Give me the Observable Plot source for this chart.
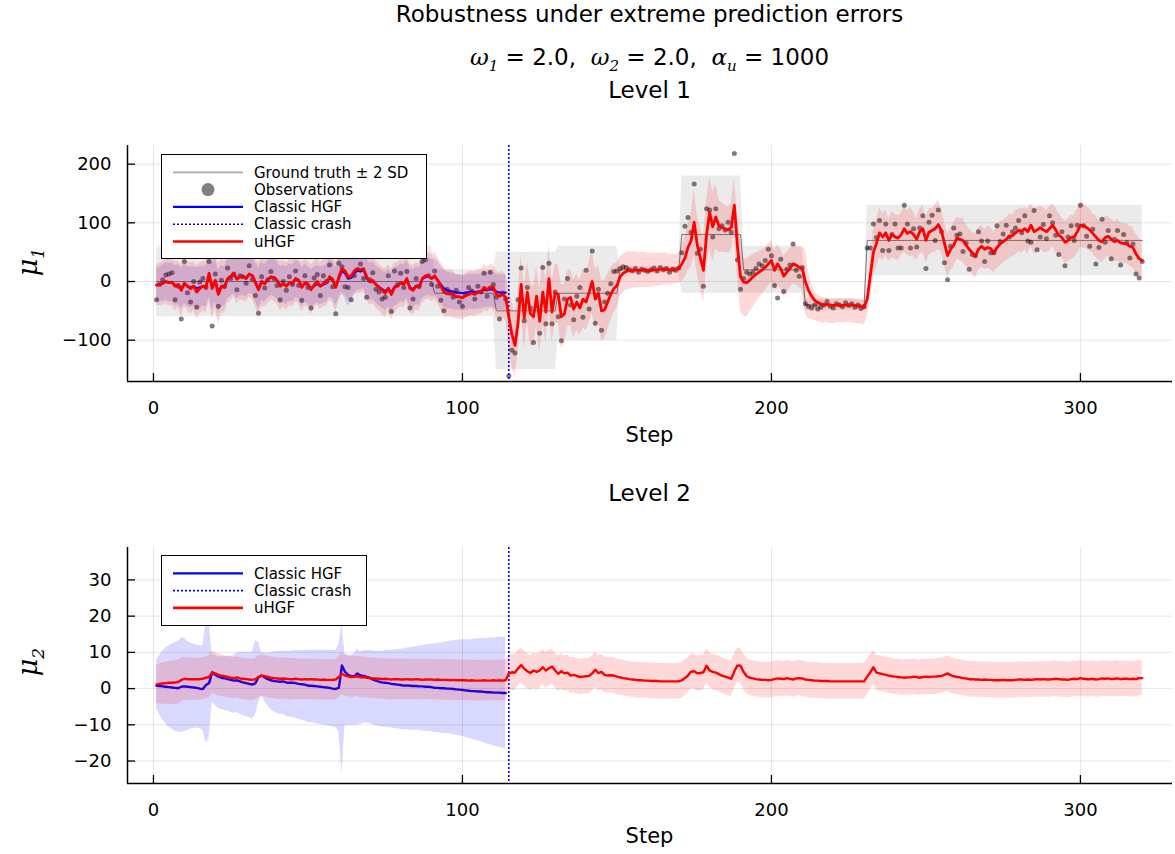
<!DOCTYPE html>
<html><head><meta charset="utf-8">
<script src="https://cdn.jsdelivr.net/npm/d3@7"></script>
<script src="https://cdn.jsdelivr.net/npm/@observablehq/plot@0.6"></script>
<style>
body{margin:0;background:#fff;font-family:"DejaVu Sans",sans-serif;color:#000;}
#wrap{position:relative;width:1175px;height:854px;overflow:hidden;background:#fff;}
.t{position:absolute;left:127px;width:1045px;text-align:center;white-space:nowrap;line-height:26px;}
.m{font-family:"DejaVu Serif",serif;font-style:italic;}
.ylab{position:absolute;transform:translate(-50%,-50%) rotate(-90deg);font-family:"DejaVu Serif",serif;font-style:italic;font-size:27px;white-space:nowrap;}
.plot{position:absolute;left:0;}
.leg{position:absolute;background:#fff;border:1.3px solid #000;box-sizing:border-box;}
</style></head><body><div id="wrap">
<div class="t" style="top:2px;font-size:23px;line-height:24px;">Robustness under extreme prediction errors</div>
<div class="t" style="top:44px;font-size:23px;"><span class="m">ω</span><sub class="m" style="font-size:15px">1</sub> = 2.0,&nbsp; <span class="m">ω</span><sub class="m" style="font-size:15px">2</sub> = 2.0,&nbsp; <span class="m">α</span><sub class="m" style="font-size:15px">u</sub> = 1000</div>
<div class="t" style="top:77px;font-size:23px;">Level 1</div>
<div class="t" style="top:480px;font-size:23px;">Level 2</div>
<div id="p1" class="plot" style="top:120px;"></div>
<div id="p2" class="plot" style="top:520px;"></div>
<div class="t" style="top:422px;font-size:21px;">Step</div>
<div class="t" style="top:823px;font-size:21px;">Step</div>
<div class="ylab" style="left:30px;top:262px;">μ<sub style="font-size:17px">1</sub></div>
<div class="ylab" style="left:30px;top:662px;">μ<sub style="font-size:17px">2</sub></div>
<div id="leg1" class="leg" style="left:161px;top:154px;width:266px;height:105px;"></div>
<div id="leg2" class="leg" style="left:161px;top:555px;width:206px;height:71px;"></div>
</div>
<script>
// ---------------- data ----------------
const xTicks = [0, 100, 200, 300];
const y1Ticks = [-100, 0, 100, 200];
const y2Ticks = [-20, -10, 0, 10, 20, 30];
const crashStep = 115;

// ground truth segments
const gtStart = [1, 91, 111, 131, 151, 171, 191, 211, 231];
const gtEnd   = [90, 110, 130, 150, 170, 190, 210, 230, 320];
const gtMean  = [0, -20, -50, -20, 20, 80, 20, -40, 70];
const gtSD    = [30, 20, 50, 40, 3, 50, 20, 5, 30];

// observations (steps 1..320)
const obs = [
-31,-5,3,11,13,15,-31,-8,-64,34,
-19,-35,0,-44,-1,5,-10,34,-76,13,
-42,2,-8,23,5,13,-14,10,8,-3,
27,4,-24,-54,8,-11,3,17,5,-7,
-31,0,-15,8,-5,18,-7,-32,10,-10,
-45,6,12,-24,10,0,28,-9,-55,31,
25,-9,-10,-31,10,20,30,5,-27,3,
15,-13,-18,-30,-27,10,-51,18,-5,14,
-10,17,-45,-30,5,-8,34,37,10,-5,
18,-8,-32,-50,-13,-20,-27,-15,-35,-42,
-22,-10,-16,-30,-8,-18,14,-25,16,-5,
-27,-64,-20,-30,-161,-117,-122,-31,23,-67,
-10,-45,-104,-40,-88,24,-72,31,-72,-18,
-60,-101,-30,5,-40,-65,-25,-10,-61,19,
-47,52,-71,-13,-83,-35,-20,-4,17,18,
22,25,24,20,18,22,16,21,19,17,
20,23,18,24,20,22,16,21,19,23,
49,94,109,84,166,48,55,-8,124,122,
76,124,90,95,88,101,84,218,37,-13,
5,16,13,16,22,30,27,36,55,44,
-7,-28,38,-17,21,28,64,19,9,24,
-38,-42,-45,-40,-47,-44,-40,-34,-42,-45,
-38,-40,-43,-36,-41,-38,-44,-40,-46,-43,
57,57,98,75,104,53,98,53,80,98,
57,57,130,98,57,90,59,91,112,22,
101,113,70,122,85,32,3,60,91,79,
81,51,65,21,46,44,85,69,34,69,
49,49,95,68,81,96,76,85,91,104,
83,112,69,67,121,54,76,97,73,112,
100,79,46,85,27,76,95,70,96,130,
95,77,60,89,30,58,106,67,87,39,
72,87,28,80,66,40,64,13,6,34];

// uHGF level-1 mean
const u1 = [
-6,-5,-3,0,-2,-1,-8,-5,-15,-3,
-8,-12,-8,-18,-12,-8,-10,14,-12,2,
-22,-8,-10,5,9,14,4,8,8,5,
13,10,-2,-14,0,-4,3,8,7,2,
-8,-4,-8,-2,-3,5,2,-10,-2,-4,
-14,-6,0,-8,-3,-2,8,4,-10,8,
22,18,8,10,18,22,20,22,8,0,
2,-5,-10,-15,-20,-12,-22,-10,-8,-2,
-5,5,-12,-15,-8,-10,5,10,10,5,
10,2,-8,-18,-21,-20,-22,-26,-26,-28,
-24,-22,-20,-22,-18,-18,-10,-14,-9,-10,
-22,-25,-22,-27,-60,-90,-109,-70,-5,-62,
-18,-55,-60,-25,-68,-18,-52,5,-52,-20,
-22,-60,-55,-30,-27,-47,-35,-45,-30,-35,
-18,0,-30,-20,-50,-48,-35,-22,-12,-7,
8,14,17,19,19,20,19,20,20,19,
19,20,20,21,21,21,20,21,21,22,
30,40,58,70,101,62,40,19,80,118,
93,110,95,92,90,88,92,130,60,8,
-1,-2,2,8,12,16,20,24,30,36,
19,30,22,9,16,22,30,28,24,22,
-1,-15,-25,-32,-36,-38,-40,-39,-40,-41,
-40,-40,-41,-40,-40,-40,-41,-42,-43,-44,
-30,10,50,65,83,76,83,70,80,76,
74,80,90,82,85,80,72,85,90,70,
84,87,90,97,87,65,44,55,62,74,
72,70,62,55,49,43,55,60,55,58,
56,49,58,64,68,72,77,78,83,87,
86,90,85,96,85,88,92,88,85,90,
96,88,79,75,67,70,75,76,85,96,
95,92,88,82,76,70,68,75,77,72,
68,70,66,65,64,60,58,47,39,36];

// uHGF level-1 band: distance above / below the mean
const u1Up = [
35,36,38,38,40,40,42,40,44,40,
42,44,42,46,44,42,44,48,52,46,
52,46,44,42,42,40,42,40,40,40,
40,40,42,46,42,40,40,40,40,40,
42,40,40,40,40,40,40,42,40,40,
42,40,40,40,40,40,40,40,42,42,
44,42,40,42,40,42,40,40,40,40,
40,40,40,40,42,40,44,42,40,40,
40,40,42,42,40,40,42,42,40,40,
40,40,40,42,40,40,40,38,38,38,
38,38,38,38,38,38,40,38,38,38,
40,40,40,40,50,55,55,52,50,55,
50,55,50,52,55,55,52,58,52,50,
50,55,50,48,48,50,48,48,50,48,
52,55,50,48,52,50,48,45,42,38,
34,33,32,32,31,31,30,30,30,29,
29,28,28,28,27,27,26,26,25,25,
30,35,40,45,55,50,52,55,58,62,
60,55,45,42,40,40,40,45,55,60,
40,40,40,38,36,35,34,34,34,34,
34,34,34,34,34,34,34,34,34,36,
55,32,18,14,13,12,12,11,11,11,
11,11,11,11,11,11,11,11,11,12,
22,30,38,40,42,40,38,36,40,38,
38,36,40,38,42,38,36,38,40,38,
40,38,40,42,38,36,38,36,38,36,
36,38,36,34,36,38,36,36,34,36,
36,34,36,38,36,36,38,36,38,36,
38,36,38,36,38,38,36,38,36,38,
36,38,36,34,36,36,38,36,38,38,
38,36,36,34,36,34,36,36,34,34,
34,36,34,34,34,34,34,34,34,33];
const u1Dn = [
35,36,38,38,40,40,42,40,44,40,
42,44,42,46,44,42,44,48,52,46,
52,46,44,42,42,40,42,40,40,40,
40,40,42,46,42,40,40,40,40,40,
42,40,40,40,40,40,40,42,40,40,
42,40,40,40,40,40,40,40,42,42,
44,42,40,42,40,42,40,40,40,40,
40,40,40,40,42,40,44,42,40,40,
40,40,42,42,40,40,42,42,40,40,
40,40,40,42,40,40,40,38,38,38,
38,38,38,38,38,38,40,38,38,38,
40,40,40,40,50,55,55,52,50,55,
50,55,50,52,55,55,52,58,52,50,
50,55,50,48,48,50,48,48,50,48,
52,55,50,48,52,50,48,45,42,38,
34,33,32,32,31,31,30,30,30,29,
29,28,28,28,27,27,26,26,25,25,
30,35,40,45,55,50,52,55,58,62,
60,55,45,42,40,40,40,45,55,60,
58,58,55,52,48,45,42,40,38,36,
36,36,34,34,34,34,34,34,34,36,
55,48,40,35,32,32,31,31,31,31,
30,30,30,30,30,30,30,30,30,30,
30,40,42,40,42,40,38,36,40,38,
38,36,40,38,42,38,36,38,40,38,
40,38,40,42,38,36,38,36,38,36,
36,38,36,34,36,38,36,36,34,36,
36,34,36,38,36,36,38,36,38,36,
38,36,38,36,38,38,36,38,36,38,
36,38,36,34,36,36,38,36,38,38,
38,36,36,34,36,34,36,36,34,34,
34,36,34,34,34,34,34,34,34,33];

// Classic HGF level-1 mean and band half-width (steps 1..114)
const c1 = [
-6,-5,-3,0,-2,-1,-7,-5,-12,-4,
-8,-10,-8,-12,-10,-8,-8,10,-8,2,
-18,-8,-9,4,8,12,4,8,8,5,
12,10,-1,-12,0,-3,3,8,7,2,
-7,-4,-7,-2,-3,4,2,-9,-3,-6,
-12,-8,-4,-8,-5,-3,6,2,-9,5,
18,14,5,6,14,19,17,20,6,-1,
1,-5,-9,-13,-17,-11,-19,-9,-7,-2,
-4,4,-10,-13,-7,-9,4,8,9,5,
8,2,-5,-12,-15,-16,-17,-19,-19,-20,
-19,-18,-17,-18,-17,-17,-14,-15,-13,-14,
-17,-19,-19,-19];
const c1w = [
28,30,31,32,33,33,34,34,35,34,
34,35,34,36,35,34,35,37,40,36,
38,35,34,33,33,33,33,32,32,32,
32,32,33,35,33,32,32,32,32,32,
32,32,32,32,32,32,32,33,32,32,
33,32,32,32,32,32,32,32,33,33,
36,44,48,40,34,34,32,32,32,32,
32,32,32,32,33,32,34,33,32,32,
32,32,33,33,32,32,33,33,32,32,
32,32,32,32,31,31,31,30,30,30,
30,30,30,30,30,30,30,30,30,30,
30,30,30,30];

// uHGF level-2 mean and band half-width (steps 1..320)
const u2 = [
1.1,1.3,1.4,1.5,1.6,1.6,1.7,1.8,2.4,2.7,
2.6,2.6,2.6,2.6,2.6,2.7,3.0,3.2,4.5,4.2,
3.8,3.6,3.4,3.2,3.0,2.9,3.1,2.8,2.7,2.6,
2.5,2.4,2.6,3.2,3.6,3.4,3.2,3.0,2.9,2.8,
2.7,2.8,2.7,2.6,2.6,2.7,2.6,2.5,2.6,2.5,
2.6,2.5,2.5,2.4,2.5,2.4,2.4,2.4,2.5,3.2,
4.1,3.6,3.4,3.2,3.3,3.4,3.1,3.2,3.0,2.9,
2.8,2.8,2.7,2.6,2.7,2.6,2.5,2.6,2.6,2.5,
2.5,2.6,2.5,2.5,2.6,2.5,2.4,2.5,2.5,2.5,
2.4,2.5,2.4,2.4,2.4,2.3,2.4,2.3,2.3,2.3,
2.3,2.2,2.3,2.2,2.2,2.2,2.3,2.2,2.2,2.3,
2.2,2.3,2.2,2.3,4.2,4.5,4.4,5.6,6.5,5.5,
4.8,4.3,5.0,4.6,5.0,5.9,5.0,5.6,6.1,5.0,
4.1,4.8,4.2,4.4,3.6,3.8,3.5,3.2,3.3,3.4,
3.5,4.2,5.2,4.3,4.6,3.8,3.6,3.7,3.6,3.3,
3.1,2.9,2.8,2.6,2.5,2.4,2.3,2.3,2.2,2.2,
2.1,2.1,2.1,2.0,2.0,2.0,2.0,2.0,2.0,2.0,
2.3,2.9,3.6,4.7,4.8,4.2,4.3,4.5,6.3,5.0,
4.6,4.4,4.0,3.6,3.3,3.0,2.7,4.8,6.4,6.3,
4.6,3.4,3.0,2.8,2.6,2.5,2.4,2.4,2.3,2.4,
2.6,2.8,2.7,2.6,2.9,2.7,2.5,2.8,2.9,2.8,
2.5,2.4,2.3,2.2,2.2,2.1,2.1,2.1,2.0,2.0,
2.0,2.0,2.0,2.0,2.0,2.0,2.0,2.0,2.0,2.0,
3.3,4.5,5.9,4.4,4.2,4.0,3.8,3.6,3.4,3.3,
3.2,3.1,3.0,3.1,3.1,3.3,3.2,3.0,3.2,3.3,
3.2,3.3,3.3,3.4,3.5,3.8,4.2,3.7,3.4,3.2,
3.1,2.9,2.8,2.6,2.6,2.5,2.5,2.4,2.5,2.4,
2.4,2.3,2.3,2.3,2.4,2.3,2.3,2.3,2.4,2.5,
2.5,2.4,2.5,2.4,2.5,2.6,2.5,2.6,2.5,2.5,
2.6,2.7,2.6,2.5,2.5,2.4,2.6,2.7,2.6,2.9,
2.7,2.6,2.6,2.7,2.5,2.6,2.8,2.7,2.8,2.6,
2.7,2.8,2.6,2.7,2.7,2.6,2.7,2.6,2.9,2.9];
const u2w = [
5.3,5.5,5.7,5.8,5.9,6.0,6.0,6.1,6.0,5.9,
5.9,5.9,5.8,5.8,5.8,5.8,5.8,5.8,5.9,5.8,
5.8,5.8,5.7,5.7,5.7,5.7,5.7,5.7,5.7,5.7,
5.7,5.7,5.7,5.7,5.8,5.7,5.7,5.7,5.7,5.7,
5.7,5.7,5.7,5.7,5.7,5.6,5.6,5.6,5.6,5.6,
5.6,5.6,5.6,5.6,5.6,5.6,5.6,5.6,5.6,5.7,
5.8,5.7,5.6,5.6,5.6,5.6,5.6,5.6,5.6,5.6,
5.6,5.6,5.6,5.6,5.6,5.6,5.6,5.6,5.6,5.6,
5.6,5.6,5.6,5.6,5.6,5.6,5.6,5.6,5.6,5.6,
5.6,5.6,5.6,5.6,5.6,5.6,5.6,5.6,5.6,5.6,
5.6,5.6,5.6,5.6,5.6,5.6,5.6,5.6,5.6,5.6,
5.6,5.6,5.6,5.6,5.0,5.0,5.0,4.9,4.8,4.9,
4.9,4.9,4.9,4.9,4.9,4.8,4.9,4.9,4.8,4.9,
4.9,4.9,4.9,4.9,4.9,4.9,4.9,4.9,4.9,4.9,
4.9,4.9,4.8,4.9,4.9,4.9,4.9,4.9,4.9,4.9,
4.9,4.9,4.9,4.9,4.9,4.9,4.9,4.9,4.9,4.9,
4.9,4.9,4.9,4.9,4.9,4.9,4.9,4.9,4.9,4.9,
4.9,4.9,4.9,4.8,4.8,4.9,4.9,4.8,4.7,4.8,
4.9,4.9,4.9,4.9,4.9,4.9,4.9,4.8,4.7,4.8,
4.9,4.9,4.9,4.9,4.9,4.9,4.9,4.9,4.9,4.9,
4.9,4.9,4.9,4.9,4.9,4.9,4.9,4.9,4.9,4.9,
4.9,4.9,4.9,4.9,4.9,4.9,4.9,4.9,4.9,4.9,
4.9,4.9,4.9,4.9,4.9,4.9,4.9,4.9,4.9,4.9,
4.9,4.8,4.7,4.8,4.9,4.9,4.9,4.9,4.9,4.9,
4.9,4.9,4.9,4.9,4.9,4.9,4.9,4.9,4.9,4.9,
4.9,4.9,4.9,4.9,4.9,4.9,4.9,4.9,4.9,4.9,
4.9,4.9,4.9,4.9,4.9,4.9,4.9,4.9,4.9,4.9,
4.9,4.9,4.9,4.9,4.9,4.9,4.9,4.9,4.9,4.9,
4.9,4.9,4.9,4.9,4.9,4.9,4.9,4.9,4.9,4.9,
4.9,4.9,4.9,4.9,4.9,4.9,4.9,4.9,4.9,4.9,
4.9,4.9,4.9,4.9,4.9,4.9,4.9,4.9,4.9,4.9,
4.9,4.9,4.9,4.9,4.9,4.9,4.9,4.9,4.9,4.9];

// Classic HGF level-2 mean and band (distance above / below), steps 1..114
const c2 = [
0.8,0.7,0.6,0.5,0.4,0.3,0.2,0.1,0.5,0.6,
0.5,0.4,0.3,0.2,0.0,-0.1,1.0,1.5,4.5,3.8,
3.3,3.0,2.8,2.6,2.4,2.2,2.3,2.0,1.7,1.5,
1.3,1.1,1.5,3.2,3.6,3.1,2.6,2.3,2.1,2.0,
1.9,2.0,1.7,1.6,1.6,1.5,1.3,1.2,1.1,0.8,
0.8,0.7,0.6,0.5,0.4,0.3,0.2,0.0,-0.1,0.2,
6.4,4.6,3.8,3.4,3.4,4.2,3.6,3.5,3.2,3.0,
2.5,2.2,1.9,1.7,1.6,1.5,1.3,1.2,1.1,1.0,
0.8,0.9,0.8,0.7,0.7,0.6,0.6,0.5,0.5,0.4,
0.2,0.2,0.1,0.1,0.0,0.0,-0.1,-0.2,-0.3,-0.4,
-0.5,-0.6,-0.7,-0.7,-0.8,-0.8,-0.9,-1.0,-1.0,-1.1,
-1.1,-1.1,-1.2,-1.2];
const c2Up = [
6.9,8.5,9.8,10.8,11.5,12.0,12.5,12.9,13.5,13.4,
12.5,12.2,12.0,11.8,11.8,12.0,17.5,17.3,5.0,5.5,
5.5,5.8,6.0,6.3,6.5,6.9,7.5,8.0,8.3,8.5,
8.7,9.0,11.7,9.6,6.4,6.8,7.2,7.6,8.0,8.2,
8.4,8.3,8.6,8.7,8.8,9.0,9.2,9.3,9.4,9.7,
9.8,9.9,10.0,10.1,10.2,10.3,10.4,10.5,10.6,12.0,
11.5,5.0,5.5,5.8,6.2,6.8,6.5,7.0,7.3,7.6,
7.9,8.2,8.4,8.6,8.9,9.1,9.3,9.5,9.7,9.9,
10.1,10.3,10.5,10.7,10.9,11.1,11.3,11.5,11.7,11.9,
12.1,12.3,12.5,12.7,12.9,13.1,13.3,13.5,13.7,13.9,
14.0,14.1,14.2,14.4,14.5,14.6,14.8,14.9,15.0,15.1,
15.2,15.3,15.4,15.4];
const c2Dn = [
6.4,8.0,9.2,10.2,11.0,11.5,12.0,12.1,12.6,12.5,
12.0,11.6,11.3,11.1,11.0,11.5,16.0,15.5,8.3,8.5,
8.8,8.8,8.8,8.8,8.9,9.0,9.0,9.1,9.2,9.2,
9.3,9.4,9.0,7.0,5.6,6.6,7.4,8.0,8.5,8.8,
9.0,9.1,9.4,9.5,9.6,9.7,9.8,9.9,10.0,10.2,
10.2,10.3,10.4,10.4,10.5,10.5,10.6,10.6,10.7,12.0,
30.0,14.8,14.0,13.6,13.5,14.4,13.5,13.0,12.8,12.6,
12.5,12.4,12.4,12.3,12.3,12.2,12.2,12.2,12.2,12.2,
12.2,12.2,12.2,12.2,12.2,12.2,12.3,12.3,12.3,12.3,
12.3,12.4,12.4,12.5,12.5,12.6,12.6,12.7,12.7,12.8,
12.9,13.1,13.3,13.5,13.7,13.9,14.1,14.3,14.5,14.7,
14.9,15.1,15.3,15.5];

// ---------------- build tables ----------------
const seg = s => gtStart.findIndex((a, i) => s >= a && s <= gtEnd[i]);
const rows1 = obs.map((v, i) => {
  const s = i + 1, k = seg(s);
  return {s, obs: v, u: u1[i], lo: u1[i] - u1Dn[i], hi: u1[i] + u1Up[i],
          gt: gtMean[k], gtLo: gtMean[k] - 2 * gtSD[k], gtHi: gtMean[k] + 2 * gtSD[k]};
});
const crows1 = c1.map((v, i) => ({s: i + 1, c: v, lo: v - c1w[i], hi: v + c1w[i]}));
const rows2 = u2.map((v, i) => ({s: i + 1, u: v, lo: v - u2w[i], hi: v + u2w[i]}));
const crows2 = c2.map((v, i) => ({s: i + 1, c: v, lo: v - c2Dn[i], hi: v + c2Up[i]}));

const W = 1175, ML = 127, MR = 3;
const xDom = [-8.4, 329.8];
const style = {fontFamily: "DejaVu Sans", fontSize: "18px", color: "#000", background: "transparent", overflow: "visible"};

function axesMarks(yDom, yTicks, plotH) {
  const tx = 8 * (xDom[1] - xDom[0]) / (W - ML - MR);
  const ty = 8 * (yDom[1] - yDom[0]) / plotH;
  return [
    Plot.ruleY([yDom[0]], {stroke: "#000", strokeWidth: 1.5}),
    Plot.ruleX([xDom[0]], {stroke: "#000", strokeWidth: 1.5}),
    Plot.ruleX(xTicks, {x: d => d, y1: yDom[0], y2: yDom[0] + ty, stroke: "#000", strokeWidth: 1.3}),
    Plot.ruleY(yTicks, {y: d => d, x1: xDom[0], x2: xDom[0] + tx, stroke: "#000", strokeWidth: 1.3}),
    Plot.axisX(xTicks, {anchor: "bottom", tickSize: 0, tickPadding: 20, label: null}),
    Plot.axisY(yTicks, {anchor: "left", tickSize: 0, tickPadding: 16, label: null})
  ];
}

// Level 1
const y1Dom = [-170.4, 231.8];
const H1 = 340, MT1 = 25, MB1 = 79;
const p1 = Plot.plot({
  width: W, height: H1, marginLeft: ML, marginRight: MR, marginTop: MT1, marginBottom: MB1,
  x: {domain: xDom, label: null}, y: {domain: y1Dom, label: null},
  style,
  marks: [
    Plot.gridX(xTicks, {stroke: "#000", strokeOpacity: 0.1, strokeWidth: 1}),
    Plot.gridY(y1Ticks, {stroke: "#000", strokeOpacity: 0.1, strokeWidth: 1}),
    Plot.areaY(rows1, {x: "s", y1: "gtLo", y2: "gtHi", fill: "#000", fillOpacity: 0.08}),
    Plot.line(rows1, {x: "s", y: "gt", stroke: "#777", strokeWidth: 1}),
    Plot.dot(rows1, {x: "s", y: "obs", r: 2.5, fill: "#000", fillOpacity: 0.5}),
    Plot.areaY(crows1, {x: "s", y1: "lo", y2: "hi", fill: "#0000ff", fillOpacity: 0.14}),
    Plot.line(crows1, {x: "s", y: "c", stroke: "#0000ff", strokeWidth: 2.2}),
    Plot.ruleX([crashStep], {stroke: "#0000ff", strokeWidth: 1.6, strokeDasharray: "2,2"}),
    Plot.areaY(rows1, {x: "s", y1: "lo", y2: "hi", fill: "#ff0000", fillOpacity: 0.15}),
    Plot.line(rows1, {x: "s", y: "u", stroke: "#ff0000", strokeWidth: 2.8}),
    ...axesMarks(y1Dom, y1Ticks, H1 - MT1 - MB1)
  ]
});
document.getElementById("p1").append(p1);

// Level 2
const y2Dom = [-26.2, 38.95];
const H2 = 334, MT2 = 27, MB2 = 71;
const p2 = Plot.plot({
  width: W, height: H2, marginLeft: ML, marginRight: MR, marginTop: MT2, marginBottom: MB2,
  x: {domain: xDom, label: null}, y: {domain: y2Dom, label: null},
  style,
  marks: [
    Plot.gridX(xTicks, {stroke: "#000", strokeOpacity: 0.1, strokeWidth: 1}),
    Plot.gridY(y2Ticks, {stroke: "#000", strokeOpacity: 0.1, strokeWidth: 1}),
    Plot.areaY(crows2, {x: "s", y1: "lo", y2: "hi", fill: "#0000ff", fillOpacity: 0.15}),
    Plot.line(crows2, {x: "s", y: "c", stroke: "#0000ff", strokeWidth: 2.4}),
    Plot.ruleX([crashStep], {stroke: "#0000ff", strokeWidth: 1.6, strokeDasharray: "2,2"}),
    Plot.areaY(rows2, {x: "s", y1: "lo", y2: "hi", fill: "#ff0000", fillOpacity: 0.15}),
    Plot.line(rows2, {x: "s", y: "u", stroke: "#ff0000", strokeWidth: 2.4}),
    ...axesMarks(y2Dom, y2Ticks, H2 - MT2 - MB2)
  ]
});
document.getElementById("p2").append(p2);

// ---------------- legends ----------------
const legItems1 = [
  {label: "Ground truth ± 2 SD", kind: "line", color: "#aaaaaa", w: 1.8},
  {label: "Observations", kind: "dot", color: "#808080"},
  {label: "Classic HGF", kind: "line", color: "#0000ff", w: 2.2},
  {label: "Classic crash", kind: "dash", color: "#0000ff", w: 1.6},
  {label: "uHGF", kind: "line", color: "#ff0000", w: 2.6}
];
const legItems2 = legItems1.slice(2);
function drawLegend(id, items, w, h) {
  const svg = d3.select("#" + id).append("svg").attr("width", w).attr("height", h)
    .style("position", "absolute").style("left", "-1.3px").style("top", "-1.3px");
  items.forEach((it, i) => {
    const y = 18.3 + i * 17.3;
    if (it.kind === "dot") {
      svg.append("circle").attr("cx", 47).attr("cy", y).attr("r", 6.5).attr("fill", it.color);
    } else {
      svg.append("line").attr("x1", 12).attr("x2", 82).attr("y1", y).attr("y2", y)
        .attr("stroke", it.color).attr("stroke-width", it.w)
        .attr("stroke-dasharray", it.kind === "dash" ? "2,2" : null);
    }
    svg.append("text").attr("x", 93).attr("y", y).attr("dy", "0.35em")
      .attr("font-family", "DejaVu Sans").attr("font-size", 15).attr("fill", "#000").text(it.label);
  });
}
drawLegend("leg1", legItems1, 266, 105);
drawLegend("leg2", legItems2, 206, 71);
</script>
</body></html>
